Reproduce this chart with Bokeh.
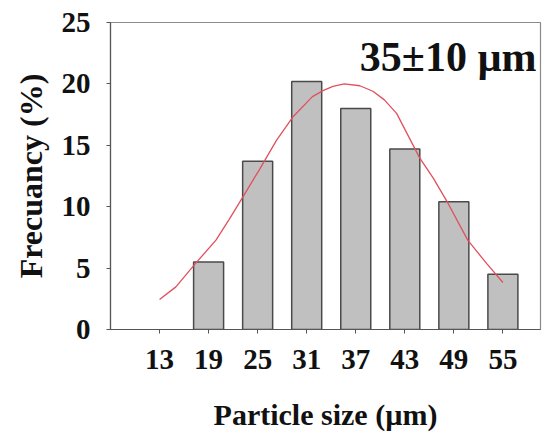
from bokeh.plotting import figure
from bokeh.models import FixedTicker, Label, ColumnDataSource
from bokeh.embed import file_html
from bokeh.resources import INLINE

# Histogram data
sizes = [13, 19, 25, 31, 37, 43, 49, 55]
freq = [0.0, 5.5, 13.7, 20.2, 18.0, 14.7, 10.4, 4.5]
size_ticks = [13, 19, 25, 31, 37, 43, 49, 55]
freq_ticks = [0, 5, 10, 15, 20, 25]

# Fitted distribution curve
fit_x = [13, 15.0, 17.3, 19.9, 21.5, 23.2, 25.2, 27.3, 29.3, 31.7, 33.0, 34.2, 35.6,
         37.5, 39.1, 40.5, 42.0, 44.8, 46.5, 48.1, 50.7, 53.0, 55]
fit_y = [2.44, 3.47, 5.3, 7.28, 8.95, 10.8, 13.0, 15.4, 17.3, 18.96, 19.45, 19.8, 20.0,
         19.85, 19.4, 18.7, 17.6, 14.0, 12.3, 10.5, 7.28, 5.38, 3.83]

annotation = "35±10 µm"
FONT = "Liberation Serif"

p = figure(width=545, height=439, output_backend="svg", toolbar_location=None,
           x_range=(7.0, 59.6), y_range=(0, 25),
           min_border_left=110, min_border_right=5, min_border_top=22,
           min_border_bottom=110)
p.outline_line_color = "#8a8a8a"
p.outline_line_width = 1.2
p.xgrid.grid_line_color = None
p.ygrid.grid_line_color = None
p.background_fill_color = "white"
p.border_fill_color = "white"

xax = p.below[0]
yax = p.left[0]

bx = [s for s, f in zip(sizes, freq) if f > 0]
bf = [f for f in freq if f > 0]
src = ColumnDataSource(dict(x=bx, top=bf))
p.vbar(x="x", top="top", bottom=0, width=3.67, source=src,
       fill_color="#c0c0c0", line_color="#4a4a4a", line_width=1.5)

p.line(fit_x, fit_y, line_color="#e0505e", line_width=1.3)

p.add_layout(Label(x=37.5, y=22.2, text=annotation, text_font=FONT,
                   text_font_style="bold", text_font_size="42px",
                   text_color="#111111", text_baseline="alphabetic",
                   text_align="left"))

for ax in (xax, yax):
    ax.axis_line_color = "#555555"
    ax.axis_line_width = 1.2
    ax.major_tick_line_color = "#555555"
    ax.major_tick_in = 0
    ax.major_tick_out = 4
    ax.minor_tick_line_color = None
    ax.major_label_text_font = FONT
    ax.major_label_text_font_style = "bold"
    ax.major_label_text_font_size = "29px"
    ax.major_label_text_color = "#111111"
    ax.axis_label_text_font = FONT
    ax.axis_label_text_font_style = "bold"
    ax.axis_label_text_font_size = "30px"
    ax.axis_label_text_color = "#111111"

yax.axis_label_text_font_size = "32px"
xax.ticker = FixedTicker(ticks=size_ticks)
yax.ticker = FixedTicker(ticks=freq_ticks)
xax.axis_label = "Particle size (µm)"
yax.axis_label = "Frecuancy (%)"
xax.major_label_standoff = 16
xax.axis_label_standoff = 26
yax.major_label_standoff = 16
yax.axis_label_standoff = 10

open("out.html", "w").write(file_html(p, INLINE))
